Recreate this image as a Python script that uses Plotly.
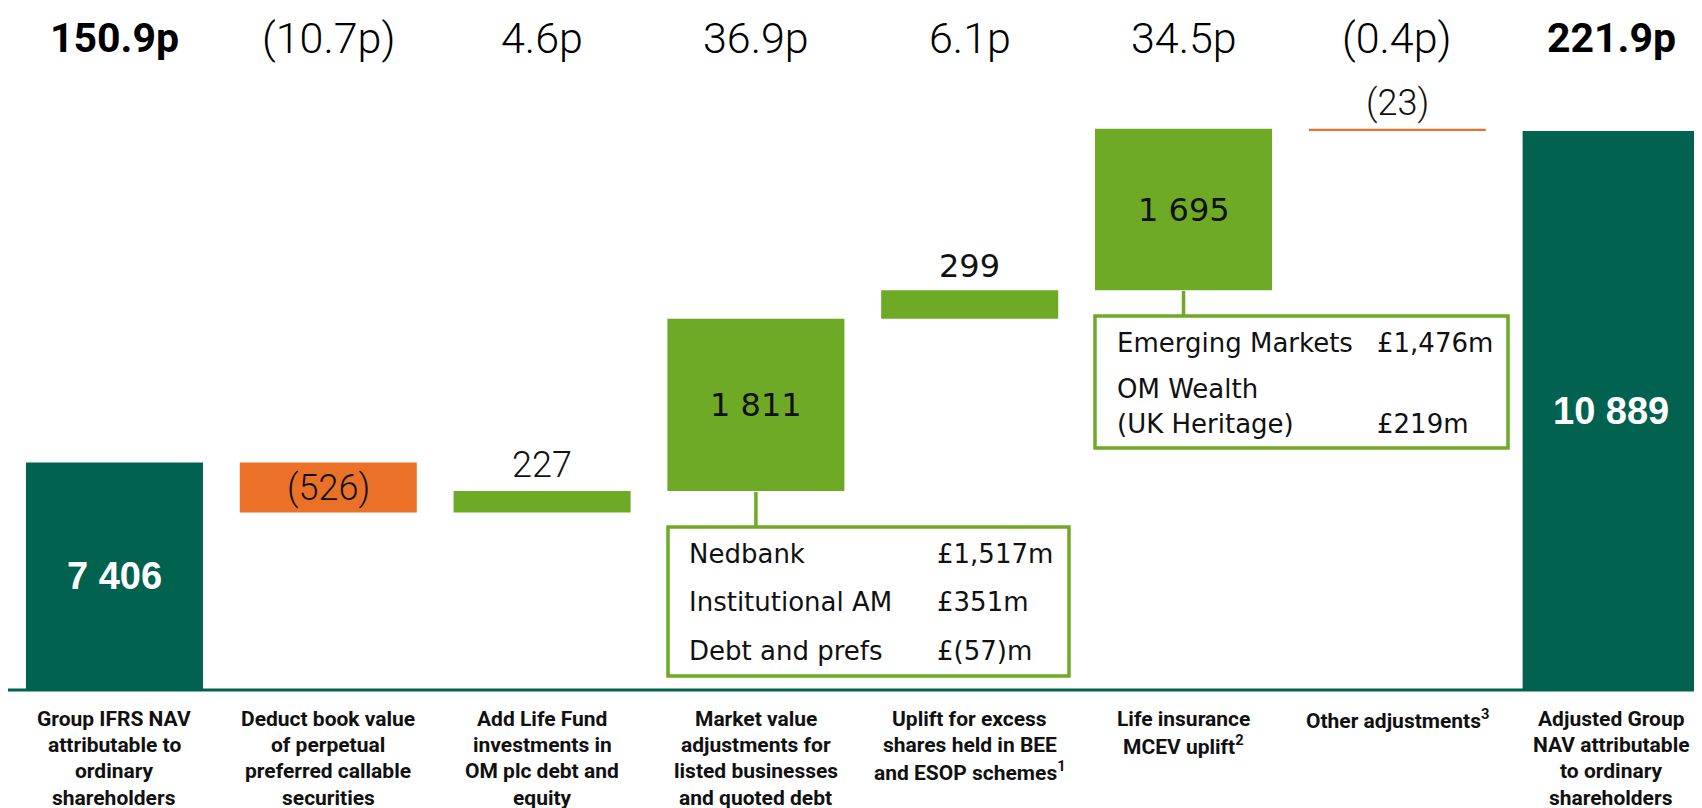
import plotly.graph_objects as go

# ---------------- data ----------------
categories = [
    "Group IFRS NAV<br>attributable to<br>ordinary<br>shareholders",
    "Deduct book value<br>of perpetual<br>preferred callable<br>securities",
    "Add Life Fund<br>investments in<br>OM plc debt and<br>equity",
    "Market value<br>adjustments for<br>listed businesses<br>and quoted debt",
    "Uplift for excess<br>shares held in BEE<br>and ESOP schemes<sup>1</sup>",
    "Life insurance<br>MCEV uplift<sup>2</sup>",
    "Other adjustments<sup>3</sup>",
    "Adjusted Group<br>NAV attributable<br>to ordinary<br>shareholders",
]
values = [7406, -526, 227, 1811, 299, 1695, -23, 10889]
kinds = ["total", "delta", "delta", "delta", "delta", "delta", "delta", "total"]
value_labels = ["7 406", "(526)", "227", "1 811", "299", "1 695", "(23)", "10 889"]
pence_labels = ["150.9p", "(10.7p)", "4.6p", "36.9p", "6.1p", "34.5p", "(0.4p)", "221.9p"]

box1_names = ["Nedbank", "Institutional AM", "Debt and prefs"]
box1_values = ["£1,517m", "£351m", "£(57)m"]
box2_names = ["Emerging Markets", "OM Wealth", "(UK Heritage)"]
box2_values = ["£1,476m", "", "£219m"]

# ---------------- style ----------------
DARK = "#00624F"
LIGHT = "#6FAA26"
ORANGE = "#EB7128"
NARROW = "Roboto"
ROUND = "DejaVu Sans"
TXT = "#111111"

OFF = 8                      # page body margin
W, H = 1702 - OFF, 808 - OFF
ML, MR, MT, MB = 0, 0, 0, 118
PW, PH = W - ML - MR, H - MT - MB
Y_MIN, Y_MAX = 5016, 12182


def px(xw):
    """window pixel x -> paper"""
    return (xw - OFF - ML) / PW


def py(yw):
    """window pixel y -> paper"""
    return (H - MB - (yw - OFF)) / PH


# waterfall geometry from data
bases, tops, colors = [], [], []
running = 0
for v, k in zip(values, kinds):
    if k == "total":
        bases.append(0)
        tops.append(v)
        running = v
        colors.append(DARK)
    else:
        new = running + v
        bases.append(min(running, new))
        tops.append(max(running, new))
        colors.append(LIGHT if v >= 0 else ORANGE)
        running = new

xs = list(range(len(values)))
fig = go.Figure(
    go.Bar(
        x=xs,
        y=[t - b for t, b in zip(tops, bases)],
        base=bases,
        marker=dict(color=colors, line=dict(width=0)),
        width=0.828,
        hoverinfo="skip",
    )
)

ann = []


def text(x, y, t, font, xref="paper", yref="paper", xanchor="center", yanchor="middle", **kw):
    ann.append(dict(x=x, y=y, xref=xref, yref=yref, text=t, showarrow=False,
                    xanchor=xanchor, yanchor=yanchor, font=font, **kw))


# value labels
for i, lab in enumerate(value_labels):
    lo = max(bases[i], Y_MIN)
    hi = tops[i]
    if i in (0, 7):
        text(i, (lo + hi) / 2, "<b>" + lab + "</b>", dict(family="Liberation Sans", size=38, color="white"),
             xref="x", yref="y")
    elif i == 1:
        text(i, (lo + hi) / 2, lab, dict(family=NARROW, size=36, color=TXT, weight=300), xref="x", yref="y")
    elif i in (3, 5):
        text(i, (lo + hi) / 2, lab, dict(family=ROUND, size=32, color=TXT), xref="x", yref="y")
    elif i == 4:
        text(i, hi, lab, dict(family=ROUND, size=32, color=TXT), xref="x", yref="y",
             yanchor="bottom", yshift=3)
    else:
        text(i, hi, lab, dict(family=NARROW, size=36, color=TXT, weight=300), xref="x", yref="y",
             yanchor="bottom", yshift=3)

# pence labels on top
for i, lab in enumerate(pence_labels):
    if i in (0, 7):
        text(i, py(38), "<b>" + lab + "</b>", dict(family=NARROW, size=41, color="#000"), xref="x")
    else:
        text(i, py(38), lab, dict(family=NARROW, size=43, color="#000", weight=300), xref="x")

# category labels, one annotation per line for tight spacing
for i, c in enumerate(categories):
    for k, line in enumerate(c.split("<br>")):
        text(i, py(718.6 + k * 26.4), "<b>" + line + "</b>",
             dict(family=NARROW, size=21, color=TXT), xref="x")

# box texts
BF = dict(family=ROUND, size=26, color=TXT)
for n, v, yy in zip(box1_names, box1_values, [554, 602, 651]):
    text(px(687), py(yy), n, BF, xanchor="left")
    text(px(935), py(yy), v, BF, xanchor="left")
for n, v, yy in zip(box2_names, box2_values, [343, 389, 424]):
    text(px(1115), py(yy), n, BF, xanchor="left")
    if v:
        text(px(1375), py(yy), v, BF, xanchor="left")

shapes = [
    # baseline
    dict(type="line", xref="paper", yref="paper", x0=0, x1=1, y0=0, y1=0,
         line=dict(color=DARK, width=3)),
    # box 1 + connector
    dict(type="line", xref="x", yref="paper", x0=3, x1=3, y0=py(526), y1=py(492),
         line=dict(color=LIGHT, width=3.5)),
    dict(type="rect", xref="paper", yref="paper", x0=px(668), x1=px(1069), y0=py(527), y1=py(676),
         line=dict(color=LIGHT, width=3.5), fillcolor="white"),
    # box 2 + connector
    dict(type="line", xref="x", yref="paper", x0=5, x1=5, y0=py(316), y1=py(291),
         line=dict(color=LIGHT, width=3.5)),
    dict(type="rect", xref="paper", yref="paper", x0=px(1095), x1=px(1508), y0=py(316), y1=py(448),
         line=dict(color=LIGHT, width=3.5), fillcolor="white"),
]

fig.update_layout(
    width=W, height=H,
    margin=dict(l=ML, r=MR, t=MT, b=MB),
    paper_bgcolor="white", plot_bgcolor="white",
    showlegend=False,
    bargap=0.17,
    xaxis=dict(range=[-0.498, 7.425], showgrid=False, zeroline=False, showticklabels=False,
               showline=False, fixedrange=True),
    yaxis=dict(range=[Y_MIN, Y_MAX], showgrid=False, zeroline=False, showticklabels=False,
               showline=False, fixedrange=True),
    annotations=ann,
    shapes=shapes,
)

fig.write_html("out.html")
